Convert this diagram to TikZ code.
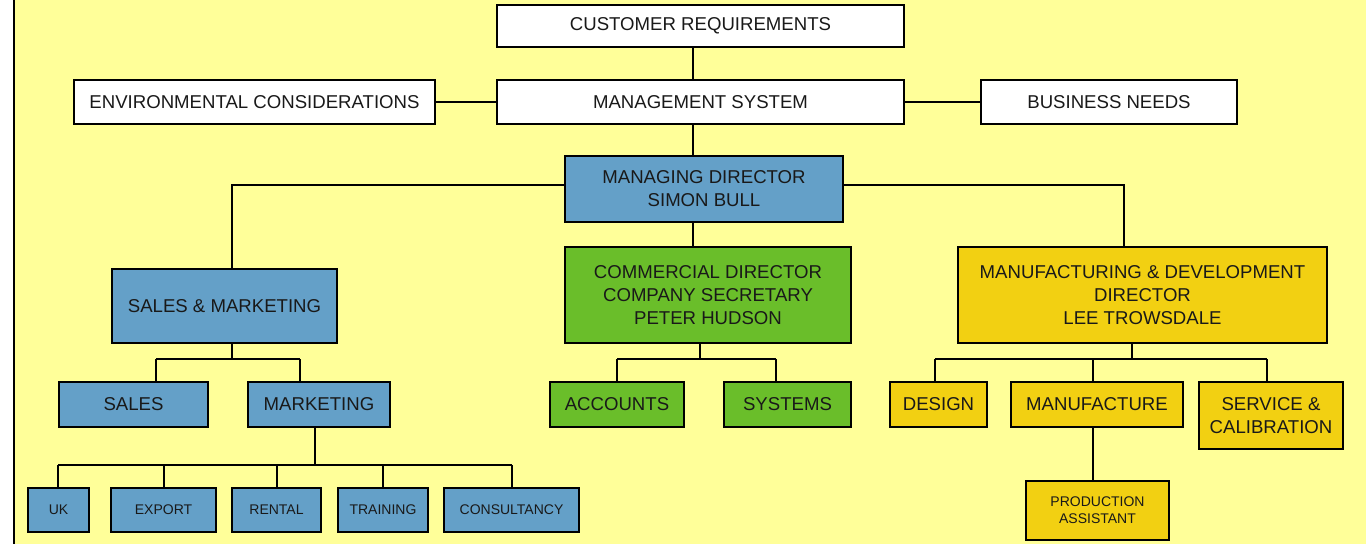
\documentclass[tikz,border=0pt]{standalone}
\usepackage{fontspec}
\setmainfont{Liberation Sans}
\usepackage{tikz}
\usetikzlibrary{positioning, calc}
\definecolor{pagebg}{HTML}{FFFF99}
\definecolor{deptblue}{HTML}{64A0C8}
\definecolor{deptgreen}{HTML}{6ABE2A}
\definecolor{deptgold}{HTML}{F2D012}
\tikzstyle{box} = [rectangle, draw=black, line width=2pt, inner sep=0pt, align=center, text=black!90, font=\fontsize{18.6}{23}\selectfont]
\tikzstyle{whitebox} = [box, fill=white]
\tikzstyle{bluebox} = [box, fill=deptblue]
\tikzstyle{greenbox} = [box, fill=deptgreen]
\tikzstyle{goldbox} = [box, fill=deptgold]
\tikzstyle{small} = [font=\fontsize{14}{17}\selectfont]
\tikzstyle{link} = [line width=1.8pt]

\begin{document}
\begin{tikzpicture}[x=1pt, y=-1pt]
    % Page
    \useasboundingbox (0,0) rectangle (1366,544);
    \fill[white] (0,0) rectangle (1366,544);
    \fill[pagebg] (14,0) rectangle (1366,544);
    \draw[line width=2pt] (14,0) -- (14,544);

    % Top level
    \node[whitebox, minimum width=407, minimum height=42] (cust) at (700.5,26) {CUSTOMER REQUIREMENTS};
    \node[whitebox, minimum width=407, minimum height=44] (mgmt) at (700.5,102) {MANAGEMENT SYSTEM};
    \node[whitebox, minimum width=361, minimum height=44] (env) at (254.5,102) {ENVIRONMENTAL CONSIDERATIONS};
    \node[whitebox, minimum width=256, minimum height=44] (biz) at (1109,102) {BUSINESS NEEDS};

    % Directors
    \node[bluebox, minimum width=278, minimum height=66] (md) at (704,189) {MANAGING DIRECTOR\\SIMON BULL};
    \node[greenbox, minimum width=286, minimum height=96] (comm) at (708,295) {COMMERCIAL DIRECTOR\\COMPANY SECRETARY\\PETER HUDSON};
    \node[goldbox, minimum width=369, minimum height=96] (mfg) at (1142.5,295) {MANUFACTURING \& DEVELOPMENT\\DIRECTOR\\LEE TROWSDALE};
    \node[bluebox, minimum width=225, minimum height=74] (sm) at (224.5,306) {SALES \& MARKETING};

    % Departments
    \node[bluebox, minimum width=149, minimum height=45] (sales) at (133.5,404.5) {SALES};
    \node[bluebox, minimum width=142, minimum height=45] (mkt) at (319,404.5) {MARKETING};
    \node[greenbox, minimum width=134, minimum height=45] (acc) at (617,404.5) {ACCOUNTS};
    \node[greenbox, minimum width=127, minimum height=45] (sys) at (787.5,404.5) {SYSTEMS};
    \node[goldbox, minimum width=97, minimum height=45] (design) at (938.5,404.5) {DESIGN};
    \node[goldbox, minimum width=172, minimum height=45] (manu) at (1097,404.5) {MANUFACTURE};
    \node[goldbox, minimum width=144, minimum height=67] (serv) at (1271,415.5) {SERVICE \&\\CALIBRATION};
    \node[goldbox, small, minimum width=143, minimum height=59] (prod) at (1097.5,510.5) {PRODUCTION\\ASSISTANT};

    % Marketing teams
    \node[bluebox, small, minimum width=61, minimum height=44] (uk) at (58.5,510) {UK};
    \node[bluebox, small, minimum width=105, minimum height=44] (export) at (163.5,510) {EXPORT};
    \node[bluebox, small, minimum width=89, minimum height=44] (rental) at (276.5,510) {RENTAL};
    \node[bluebox, small, minimum width=90, minimum height=44] (training) at (383,510) {TRAINING};
    \node[bluebox, small, minimum width=135, minimum height=44] (consult) at (511.5,510) {CONSULTANCY};

    % Junctions
    \coordinate (trunk) at (693,0);
    \coordinate (lbar) at (232,185);
    \coordinate (rbar) at (1124,185);

    % Connectors
    \draw[link] (cust.south -| trunk) -- (mgmt.north -| trunk);
    \draw[link] (env) -- (mgmt);
    \draw[link] (mgmt) -- (biz);
    \draw[link] (mgmt.south -| trunk) -- (md.north -| trunk);
    \draw[link] (md.south -| trunk) -- (comm.north -| trunk);
    \draw[link] (md.west |- lbar) -- (lbar) -- (sm.north -| lbar);
    \draw[link] (md.east |- rbar) -- (rbar) -- (mfg.north -| rbar);

    \draw[link] (sm.south -| lbar) -- (232,359);
    \draw[link] (156,359) -- (300,359);
    \foreach \n/\x in {sales/156, mkt/300}
        \draw[link] (\x,359) -- (\x,0 |- \n.north);

    \draw[link] (comm.south -| 700,0) -- (700,359);
    \draw[link] (617,359) -- (776,359);
    \foreach \n/\x in {acc/617, sys/776}
        \draw[link] (\x,359) -- (\x,0 |- \n.north);

    \draw[link] (mfg.south -| 1132,0) -- (1132,359);
    \draw[link] (935,359) -- (1267,359);
    \foreach \n/\x in {design/935, manu/1093, serv/1267}
        \draw[link] (\x,359) -- (\x,0 |- \n.north);
    \draw[link] (manu.south -| 1093,0) -- (prod.north -| 1093,0);

    \draw[link] (mkt.south -| 315,0) -- (315,465);
    \draw[link] (58,465) -- (512,465);
    \foreach \n/\x in {uk/58, export/164, rental/277, training/383, consult/512}
        \draw[link] (\x,465) -- (\x,0 |- \n.north);
\end{tikzpicture}
\end{document}
